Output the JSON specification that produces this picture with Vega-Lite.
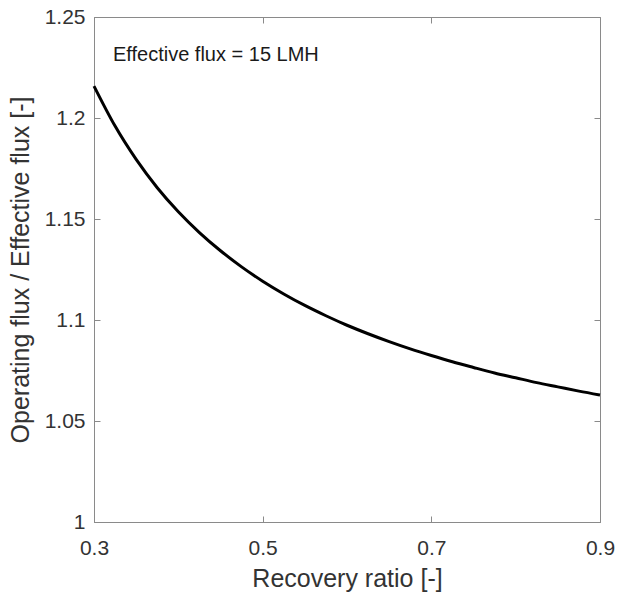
{
  "$schema": "https://vega.github.io/schema/vega-lite/v6.json",
  "width": 506,
  "height": 505,
  "autosize": {"type": "none"},
  "padding": {"left": 94, "top": 17, "right": 19, "bottom": 70},
  "background": "white",
  "config": {
    "font": "Liberation Sans",
    "view": {"stroke": "#8a8a8a", "strokeWidth": 1},
    "axis": {
      "grid": false,
      "domainColor": "#8a8a8a",
      "tickColor": "#8a8a8a",
      "tickSize": -6,
      "labelColor": "#333333",
      "labelFontSize": 21,
      "labelFont": "Liberation Sans",
      "titleColor": "#333333",
      "titleFontSize": 25,
      "titleFont": "Liberation Sans",
      "titleFontWeight": "normal"
    }
  },
  "data": {
    "values": [
      {"r": 0.300, "v": 1.2158},
      {"r": 0.325, "v": 1.1960},
      {"r": 0.350, "v": 1.1795},
      {"r": 0.375, "v": 1.1655},
      {"r": 0.400, "v": 1.1536},
      {"r": 0.425, "v": 1.1433},
      {"r": 0.450, "v": 1.1343},
      {"r": 0.475, "v": 1.1263},
      {"r": 0.500, "v": 1.1192},
      {"r": 0.525, "v": 1.1129},
      {"r": 0.550, "v": 1.1072},
      {"r": 0.575, "v": 1.1021},
      {"r": 0.600, "v": 1.0974},
      {"r": 0.625, "v": 1.0932},
      {"r": 0.650, "v": 1.0893},
      {"r": 0.675, "v": 1.0857},
      {"r": 0.700, "v": 1.0824},
      {"r": 0.725, "v": 1.0793},
      {"r": 0.750, "v": 1.0765},
      {"r": 0.775, "v": 1.0738},
      {"r": 0.800, "v": 1.0714},
      {"r": 0.825, "v": 1.0690},
      {"r": 0.850, "v": 1.0669},
      {"r": 0.875, "v": 1.0648},
      {"r": 0.900, "v": 1.0629}
    ]
  },
  "layer": [
    {
      "mark": {"type": "line", "color": "#000000", "strokeWidth": 3, "interpolate": "monotone"},
      "encoding": {
        "x": {
          "field": "r", "type": "quantitative",
          "scale": {"domain": [0.3, 0.9], "nice": false, "zero": false},
          "axis": {"values": [0.3, 0.5, 0.7, 0.9], "format": ".1f", "title": "Recovery ratio [-]", "labelPadding": 21, "titlePadding": 8, "labelFlush": false}
        },
        "y": {
          "field": "v", "type": "quantitative",
          "scale": {"domain": [1, 1.25], "nice": false, "zero": false},
          "axis": {"values": [1, 1.05, 1.1, 1.15, 1.2, 1.25], "labelExpr": "format(datum.value, '.2~f')", "title": "Operating flux / Effective flux [-]", "labelPadding": 15, "titlePadding": 11, "labelFlush": false}
        }
      }
    },
    {
      "data": {"values": [{"r": 0.3225, "v": 1.2312, "t": "Effective flux = 15 LMH"}]},
      "mark": {"type": "text", "align": "left", "baseline": "middle", "fontSize": 20, "color": "#1a1a1a", "font": "Liberation Sans"},
      "encoding": {
        "x": {"field": "r", "type": "quantitative", "axis": {"orient": "top", "values": [0.3, 0.5, 0.7, 0.9], "labels": false, "title": null, "domain": false}},
        "y": {"field": "v", "type": "quantitative", "axis": {"orient": "right", "values": [1, 1.05, 1.1, 1.15, 1.2, 1.25], "labels": false, "title": null, "domain": false}},
        "text": {"field": "t"}
      }
    }
  ],
  "resolve": {"axis": {"x": "independent", "y": "independent"}}
}
